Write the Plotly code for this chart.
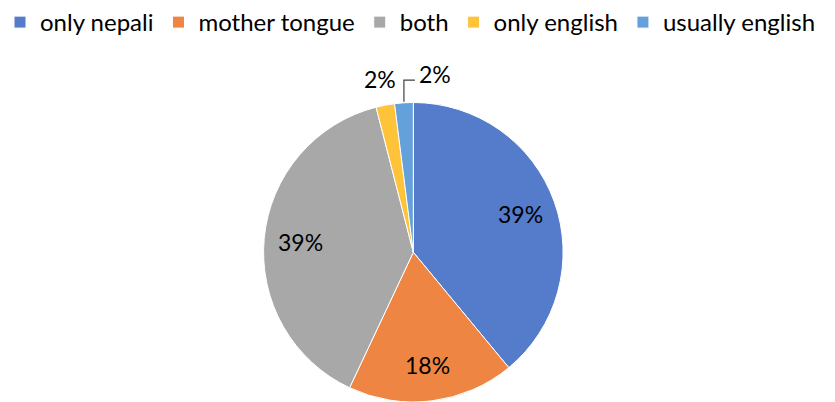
import math
import plotly.graph_objects as go

# Language used, share of respondents (%)
categories = ["only nepali", "mother tongue", "both", "only english", "usually english"]
shares = [39, 18, 39, 2, 2]
colors = ["#557BCB", "#EF8542", "#A8A8A8", "#FFC33A", "#64A0D9"]

FONT = "Lato"
W, H = 835, 402
DOM_X = [0.3, 0.69]
DOM_Y = [0.0, 0.745]

fig = go.Figure(
    go.Pie(
        labels=categories,
        values=shares,
        sort=False,
        direction="clockwise",
        rotation=0,
        marker=dict(colors=colors, line=dict(color="white", width=1)),
        textinfo="none",
        hoverinfo="label+percent",
        domain=dict(x=DOM_X, y=DOM_Y),
        automargin=False,
    )
)

# pie geometry in pixels (margins are zero)
cx = W * (DOM_X[0] + DOM_X[1]) / 2
r = min(W * (DOM_X[1] - DOM_X[0]), H * (DOM_Y[1] - DOM_Y[0])) / 2
cy = H * (1 - (DOM_Y[0] + DOM_Y[1]) / 2)


def to_paper(px, py):
    return px / W, 1 - py / H


def point_at(angle_deg, frac):
    a = math.radians(angle_deg)
    return cx + frac * r * math.sin(a), cy - frac * r * math.cos(a)


total = sum(shares)
cum = 0
annotations = []
shapes = []
for i, v in enumerate(shares):
    mid = 360 * (cum + v / 2) / total
    cum += v
    text = f"{v}%"
    if v >= 5:
        px, py = point_at(mid, 0.76)
        x, y = to_paper(px, py)
        annotations.append(dict(x=x, y=y, text=text, xanchor="center", yanchor="middle"))
    elif i == len(shares) - 1:
        # last small slice: label pulled right with an elbow leader line
        ex, ey = point_at(mid, 1.0)
        ty = cy - r * 1.15
        p0 = to_paper(ex, ey - 1)
        p1 = to_paper(ex, ty)
        p2 = to_paper(ex + 11, ty)
        shapes.append(dict(
            type="path", xref="paper", yref="paper",
            path=f"M{p0[0]},{p0[1]} L{p1[0]},{p1[1]} L{p2[0]},{p2[1]}",
            line=dict(color="#404040", width=1.2),
        ))
        x, y = to_paper(ex + 13, ty - 6)
        annotations.append(dict(x=x, y=y, text=text, xanchor="left", yanchor="middle"))
    else:
        px, py = point_at(mid, 1.18)
        x, y = to_paper(px, py)
        annotations.append(dict(x=x, y=y, text=text, xanchor="center", yanchor="middle"))

for a in annotations:
    a.update(xref="paper", yref="paper", showarrow=False,
             font=dict(family=FONT, size=23, color="#000000"))

fig.update_layout(
    width=W,
    height=H,
    margin=dict(l=0, r=0, t=0, b=0),
    paper_bgcolor="white",
    plot_bgcolor="white",
    font=dict(family=FONT, size=24, color="#000000"),
    annotations=annotations,
    shapes=shapes,
    legend=dict(
        orientation="h",
        x=0.0,
        y=1.0,
        xanchor="left",
        yanchor="top",
        font=dict(family=FONT, size=24, color="#000000"),
        itemclick=False,
    ),
)

fig.write_html("out.html")
